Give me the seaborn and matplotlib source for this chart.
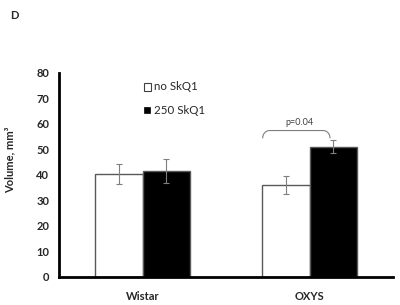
import numpy as np
import matplotlib
matplotlib.use("Agg")
import matplotlib.pyplot as plt
import seaborn as sns
import pandas as pd
from matplotlib.patches import Rectangle

# data
groups = ["Wistar", "OXYS"]
treatments = ["no SkQ1", "250 SkQ1"]
volume_no = [40.3, 36.0]
volume_250 = [41.4, 51.1]
err_no = [3.8, 3.4]
err_250 = [4.7, 2.5]
p_label = "p=0.04"

sns.set_style("white")
plt.rcParams["font.family"] = ["Lato", "DejaVu Sans"]

df = pd.DataFrame({
    "group": groups * 2,
    "treatment": [treatments[0]] * 2 + [treatments[1]] * 2,
    "volume": volume_no + volume_250,
    "err": err_no + err_250,
})

fig = plt.figure(figsize=(4.0, 3.05), dpi=100)
ax = fig.add_axes([0.1475, 0.092, 0.835, 0.669])

sns.barplot(data=df, x="group", y="volume", hue="treatment", hue_order=treatments,
            palette=["white", "black"], width=0.57, gap=0, errorbar=None,
            edgecolor="#595959", linewidth=1.0, ax=ax, legend=False)

# error bars placed at the centres of the drawn bars
for p, (_, row) in zip(ax.patches, df.iterrows()):
    xc = p.get_x() + p.get_width() / 2
    ax.errorbar(xc, p.get_height(), yerr=row["err"], color="#7f7f7f",
                capsize=2, elinewidth=0.8, capthick=0.8)

ax.set_xlim(-0.5, 1.5)
ax.set_ylim(0, 80)
ax.set_yticks(range(0, 81, 10))
ax.set_xticks([0, 1])
ax.set_xticklabels(groups, fontweight="bold", fontsize=8)
ax.tick_params(axis="x", length=0, pad=10)
ax.set_xticks([-0.5, 0.5, 1.5], minor=True)
ax.tick_params(axis="x", which="minor", length=3, direction="out", color="#7f7f7f")
ax.tick_params(axis="y", length=3, direction="out", width=0.8, labelsize=8, pad=4)
for lab in ax.get_yticklabels():
    lab.set_fontweight("bold")
ax.set_xlabel("")
ax.set_ylabel("Volume, mm\u00b3", fontweight="bold", fontsize=8)
ax.yaxis.set_label_coords(-0.13, 0.574)

sns.despine(ax=ax)
ax.spines["left"].set_linewidth(2)
ax.spines["bottom"].set_linewidth(2)
ax.spines["left"].set_color("black")
ax.spines["bottom"].set_color("black")

# legend: small squares plus labels
fig.patches.append(Rectangle((0.36, 0.703), 0.0165, 0.024, transform=fig.transFigure,
                             facecolor="white", edgecolor="#404040", lw=0.8))
fig.patches.append(Rectangle((0.36, 0.630), 0.0145, 0.02, transform=fig.transFigure,
                             facecolor="black", edgecolor="black", lw=0.5))
fig.text(0.386, 0.715, treatments[0], fontsize=8.3, va="center", ha="left")
fig.text(0.386, 0.639, treatments[1], fontsize=8.3, va="center", ha="left")

# significance bracket with rounded ends between OXYS bars
x0 = ax.patches[1].get_x() + 0.005
x1 = ax.patches[3].get_x() + ax.patches[3].get_width() / 2 - 0.02
y_end = volume_250[1] + err_250[1] + 0.9
y_top = y_end + 2.9
rx, ry = 0.04, 2.9
t = np.linspace(0, np.pi / 2, 12)
left_x = x0 + rx - rx * np.cos(t)
left_y = y_end + ry * np.sin(t)
right_x = x1 - rx + rx * np.cos(t[::-1])
right_y = y_end + ry * np.sin(t[::-1])
ax.plot(np.concatenate([left_x, right_x]), np.concatenate([left_y, right_y]),
        color="#7f7f7f", lw=0.8)
ax.text((x0 + x1) / 2 + 0.02, y_top + 1.2, p_label, ha="center", va="bottom",
        fontsize=6.5, color="#404040")

fig.text(0.025, 0.949, "D", fontweight="bold", fontsize=8, va="center")

fig.savefig("out.png", dpi=100, facecolor="white")
